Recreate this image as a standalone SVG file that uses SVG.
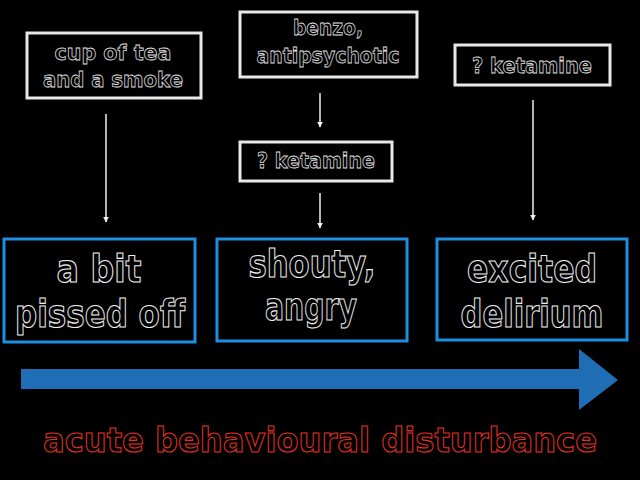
<svg xmlns="http://www.w3.org/2000/svg" width="640" height="480" viewBox="0 0 640 480">
<defs>
<style>
.wbox{fill:#000;stroke:#e8e8e8;stroke-width:3}
.bbox{fill:#000;stroke:#1d8ee0;stroke-width:3}
.st{font-family:"DejaVu Sans",sans-serif;font-weight:bold;font-size:22px;fill:#000;stroke:#e0e0e0;stroke-width:0.8;text-anchor:middle}
.bt{font-family:"DejaVu Sans",sans-serif;font-weight:bold;font-size:37px;fill:#000;stroke:#f0f0f0;stroke-width:1.1;text-anchor:middle}
.rt{font-family:"DejaVu Sans",sans-serif;font-weight:bold;font-size:34px;fill:#000;stroke:#e03020;stroke-width:1.1;text-anchor:middle}
.conn{stroke:#f0f0f0;stroke-width:1.5;fill:none}
</style>
<marker id="ah" viewBox="0 0 10 10" refX="9" refY="5" markerWidth="6" markerHeight="6" orient="auto" markerUnits="userSpaceOnUse">
<path d="M0,0 L10,5 L0,10 z" fill="#f0f0f0"/>
</marker>
</defs>
<rect width="640" height="480" fill="#000"/>

<g id="connectors">
<line class="conn" x1="106" y1="114" x2="106" y2="222" marker-end="url(#ah)"/>
<line class="conn" x1="320" y1="93" x2="320" y2="127" marker-end="url(#ah)"/>
<line class="conn" x1="320" y1="193" x2="320" y2="228" marker-end="url(#ah)"/>
<line class="conn" x1="533" y1="100" x2="533" y2="220" marker-end="url(#ah)"/>
</g>

<g id="tea">
<rect class="wbox" x="27" y="33" width="174" height="65"/>
<text class="st" x="113" y="60" textLength="117" lengthAdjust="spacingAndGlyphs">cup of tea</text>
<text class="st" x="113" y="87" textLength="140" lengthAdjust="spacingAndGlyphs">and a smoke</text>
</g>

<g id="benzo">
<rect class="wbox" x="240" y="12" width="177" height="65"/>
<text class="st" x="328" y="35" textLength="70" lengthAdjust="spacingAndGlyphs">benzo,</text>
<text class="st" x="328" y="63" textLength="143" lengthAdjust="spacingAndGlyphs">antipsychotic</text>
</g>

<g id="ketamine1">
<rect class="wbox" x="240" y="142" width="152" height="39"/>
<text class="st" x="316" y="168" textLength="118" lengthAdjust="spacingAndGlyphs">? ketamine</text>
</g>

<g id="ketamine2">
<rect class="wbox" x="455" y="45" width="155" height="40"/>
<text class="st" x="532" y="73" textLength="120" lengthAdjust="spacingAndGlyphs">? ketamine</text>
</g>

<g id="pissed">
<rect class="bbox" x="4" y="239" width="191" height="103"/>
<text class="bt" x="99" y="282" textLength="85" lengthAdjust="spacingAndGlyphs">a bit</text>
<text class="bt" x="100" y="327" textLength="170" lengthAdjust="spacingAndGlyphs">pissed off</text>
</g>

<g id="shouty">
<rect class="bbox" x="217" y="239" width="190" height="102"/>
<text class="bt" x="312" y="277" textLength="127" lengthAdjust="spacingAndGlyphs">shouty,</text>
<text class="bt" x="311" y="320" textLength="92" lengthAdjust="spacingAndGlyphs">angry</text>
</g>

<g id="delirium">
<rect class="bbox" x="437" y="239" width="190" height="101"/>
<text class="bt" x="532" y="282" textLength="130" lengthAdjust="spacingAndGlyphs">excited</text>
<text class="bt" x="532" y="327" textLength="143" lengthAdjust="spacingAndGlyphs">delirium</text>
</g>

<g id="timeline">
<path d="M21,369 L579,369 L579,349 L618,380 L579,410 L579,389 L21,389 z" fill="#1f6db5"/>
</g>

<g id="title">
<text class="rt" x="320" y="452" textLength="554" lengthAdjust="spacingAndGlyphs">acute behavioural disturbance</text>
</g>
</svg>
